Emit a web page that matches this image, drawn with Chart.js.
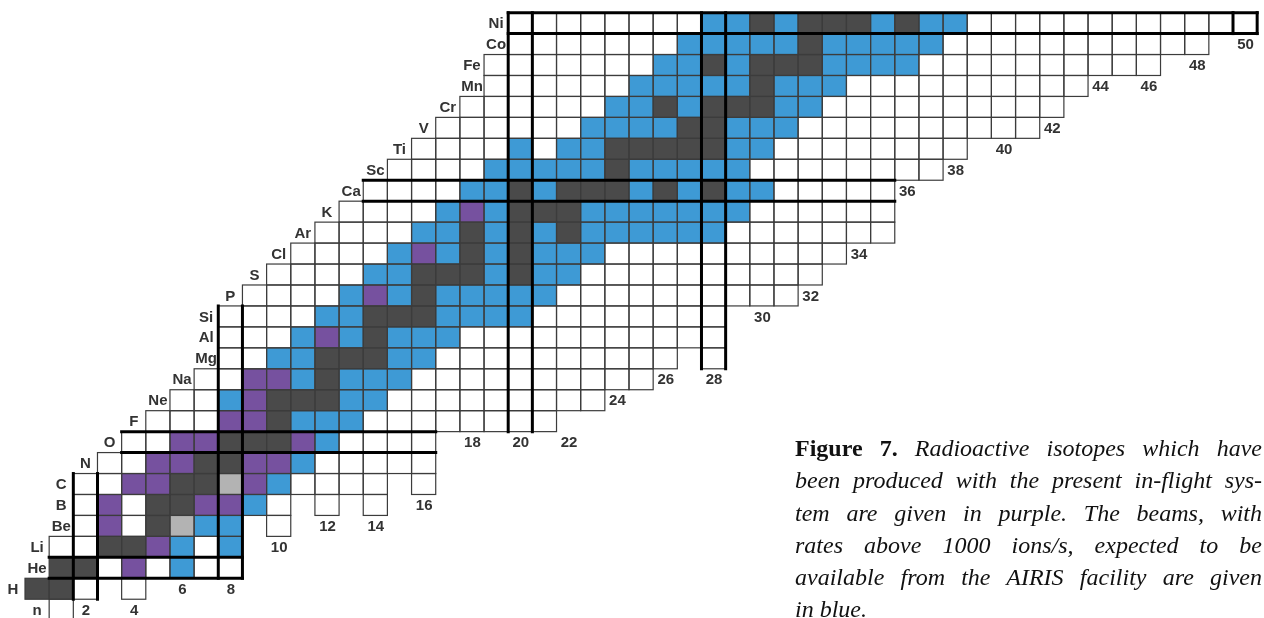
<!DOCTYPE html>
<html>
<head>
<meta charset="utf-8">
<title>Chart of nuclides – Figure 7</title>
<script src="https://cdn.jsdelivr.net/npm/chart.js@4.4.1/dist/chart.umd.min.js"></script>
<style>
  html, body { margin: 0; padding: 0; background: #ffffff; }
  #wrap { position: relative; width: 1264px; height: 618px; overflow: hidden; }
  #chart { position: absolute; left: 0; top: 0; }
  #caption {
    position: absolute; left: 795px; top: 432px; width: 467px;
    font-family: "Liberation Serif", "Times New Roman", serif;
    font-size: 24px; line-height: 32.3px; color: #111;
  }
  #caption .ln { text-align: justify; text-align-last: justify; white-space: nowrap; }
  #caption .ln.last { text-align-last: left; }
  #caption b { font-weight: bold; font-style: normal; }
  #caption i { font-style: italic; }
</style>
</head>
<body>
<div id="wrap">
  <canvas id="chart" width="1264" height="618"></canvas>
  <div id="caption">
    <div class="ln"><b>Figure 7.</b> <i>Radioactive isotopes which have</i></div>
    <div class="ln"><i>been produced with the present in-flight sys-</i></div>
    <div class="ln"><i>tem are given in purple. The beams, with</i></div>
    <div class="ln"><i>rates above 1000 ions/s, expected to be</i></div>
    <div class="ln"><i>available from the AIRIS facility are given</i></div>
    <div class="ln last"><i>in blue.</i></div>
  </div>
</div>
<script>
// ---- data ----
// proton number Z = index in these arrays
const elementSymbols = ['n','H','He','Li','Be','B','C','N','O','F','Ne','Na','Mg','Al','Si','P','S','Cl','Ar','K','Ca','Sc','Ti','V','Cr','Mn','Fe','Co','Ni'];
// neutron number of the first drawn isotope of each element
const firstNeutron = [1,0,1,1,2,2,2,3,4,5,6,7,8,8,8,9,10,11,12,13,14,15,16,17,18,19,19,20,20];
// one character per isotope, N increasing; spaces are only for readability
// w = radioactive, k = stable, p = produced in-flight (purple), b = AIRIS beam (blue), g = light grey, . = no cell
const isotopeCodes = [
  'w',                                              // n
  'kk w . w',                                       // H
  'kk w p w b ww',                                  // He
  'ww kk p b w b',                                  // Li
  'w p w k g bb . w',                               // Be
  'w p w kk pp b w . w . w',                        // B
  'ww pp kk g p b wwww . w',                        // C
  'ww pp kk pp b wwwww',                            // N
  'ww pp kkk p b wwww',                             // O
  'www pp k bbb wwwwwwww',                          // F
  'ww b p kkk bb wwwwwwwww',                        // Ne
  'ww pp b k bbb wwwwwwwwww',                       // Na
  'ww bb kkk bb wwwwwwwwww . w',                    // Mg
  'www b p b k bbb wwwwwwwwwww',                    // Al
  'wwww bb kkk bbbb wwwwwwww',                      // Si
  'wwww b p b k bbbbb wwwwwwwwww',                  // P
  'wwww bb kkk b k bb wwwwwwwwww',                  // S
  'wwww b p b k b k bbb wwwwwwwwww',                // Cl
  'wwww bb k b k b k bbbbbb wwwwwww',               // Ar
  'wwww b p b kkk bbbbbbb wwwwww',                  // K
  'wwww bb k b kkk b k b k bb wwwww',               // Ca
  'wwww bbbbb k bbbbb wwwwwwww',                    // Sc
  'wwww b w bb kkkkk bb wwwwwwww',                  // Ti
  'wwwwww bbbb kk bbb wwwwwwwwww',                  // V
  'wwwwww bb k b kkk bb wwwwwwwwww',                // Cr
  'wwwwww bbbbb k bbb wwwwwwwwww',                  // Mn
  'wwwwwww bb k b kkk bbbb wwwwwwwwww',             // Fe
  'wwwwwww bbbbb k bbbbb wwwwwwwwwww',              // Co
  'wwwwwwww bb k b kkk b k bb wwwwwwwwwwww'         // Ni
];
const categoryCodes  = ['w', 'k', 'p', 'b', 'g'];
const categoryNames  = ['Radioactive', 'Stable', 'Produced with in-flight system', 'AIRIS beams > 1000 ions/s', 'Long-lived'];
const categoryColors = ['#ffffff', '#4a4a4a', '#76519f', '#3e9ad5', '#b3b3b3'];
const magicNumbers = [2, 8, 20, 28, 50];
const neutronTickLabels = [2,4,6,8,10,12,14,16,18,20,22,24,26,28,30,32,34,36,38,40,42,44,46,48,50];
const neutronTickRows   = [0,0,1,1,3,4,4,5,8,8,8,10,11,11,14,15,17,20,21,22,23,25,25,26,27];

// ---- axis ranges (style) ----
const X_MIN = -1.5348, X_MAX = 50.783, Y_MIN = -0.396, Y_MAX = 29.103;
const CANVAS_H = 618;
const ROW_PX = CANVAS_H / (Y_MAX - Y_MIN);   // pixel height of one Z row

// ---- build datasets ----
const cells = [];
isotopeCodes.forEach((row, z) => {
  const codes = row.replace(/\s+/g, '');
  for (let i = 0; i < codes.length; i++) {
    const c = codes[i];
    if (c === '.') continue;
    cells.push({ n: firstNeutron[z] + i, z: z, code: c });
  }
});
const datasets = categoryCodes.map((code, k) => ({
  label: categoryNames[k],
  backgroundColor: categoryColors[k],
  borderWidth: 0,
  inflateAmount: 0,
  grouped: false,
  barThickness: ROW_PX,
  data: cells.filter(c => c.code === code).map(c => ({ x: [c.n - 0.5, c.n + 0.5], y: c.z }))
}));

// ---- drawing of outlines, magic-number lines and labels through the scales ----
const nuclidePlugin = {
  id: 'nuclideGrid',
  afterDatasetsDraw(chart) {
    const ctx = chart.ctx;
    const xs = chart.scales.x, ys = chart.scales.y;
    ctx.save();
    // thin outlines of every cell
    ctx.strokeStyle = '#3c3c3c';
    ctx.lineWidth = 1.2;
    chart.data.datasets.forEach((ds, di) => {
      chart.getDatasetMeta(di).data.forEach(bar => {
        const p = bar.getProps(['x', 'y', 'base', 'height'], true);
        const l = Math.min(p.x, p.base), r = Math.max(p.x, p.base);
        ctx.strokeRect(l, p.y - p.height / 2, r - l, p.height);
      });
    });
    // thick lines for magic numbers
    ctx.strokeStyle = '#000000';
    ctx.lineWidth = 3;
    ctx.lineCap = 'square';
    const seg = (x1, y1, x2, y2) => { ctx.beginPath(); ctx.moveTo(x1, y1); ctx.lineTo(x2, y2); ctx.stroke(); };
    magicNumbers.forEach(m => {
      const zs = cells.filter(c => c.n === m).map(c => c.z);
      if (zs.length) {
        const y1 = ys.getPixelForValue(Math.min(...zs) - 0.5), y2 = ys.getPixelForValue(Math.max(...zs) + 0.5);
        [m - 0.5, m + 0.5].forEach(v => { const px = xs.getPixelForValue(v); seg(px, y1, px, y2); });
      }
      const ns = cells.filter(c => c.z === m).map(c => c.n);
      if (ns.length) {
        const x1 = xs.getPixelForValue(Math.min(...ns) - 0.5), x2 = xs.getPixelForValue(Math.max(...ns) + 0.5);
        [m - 0.5, m + 0.5].forEach(v => { const py = ys.getPixelForValue(v); seg(x1, py, x2, py); });
      }
    });
    // element symbols and neutron numbers
    ctx.fillStyle = '#333333';
    ctx.font = 'bold 15px "Liberation Sans", Arial, Helvetica, sans-serif';
    ctx.textAlign = 'center';
    ctx.textBaseline = 'middle';
    elementSymbols.forEach((s, z) => {
      ctx.fillText(s, xs.getPixelForValue(firstNeutron[z] - 1), ys.getPixelForValue(z) + 1);
    });
    neutronTickLabels.forEach((n, i) => {
      ctx.fillText(String(n), xs.getPixelForValue(n) + 0.5, ys.getPixelForValue(neutronTickRows[i]) + 1);
    });
    ctx.restore();
  }
};

new Chart(document.getElementById('chart'), {
  type: 'bar',
  data: { datasets: datasets },
  options: {
    indexAxis: 'y',
    responsive: false,
    animation: false,
    layout: { padding: 0 },
    scales: {
      x: { type: 'linear', min: X_MIN, max: X_MAX, bounds: 'data', display: false, offset: false,
           grid: { display: false } },
      y: { type: 'linear', min: Y_MIN, max: Y_MAX, bounds: 'data', display: false, offset: false,
           grid: { display: false } }
    },
    plugins: { legend: { display: false }, title: { display: false }, tooltip: { enabled: true } }
  },
  plugins: [nuclidePlugin]
});
</script>
</body>
</html>
